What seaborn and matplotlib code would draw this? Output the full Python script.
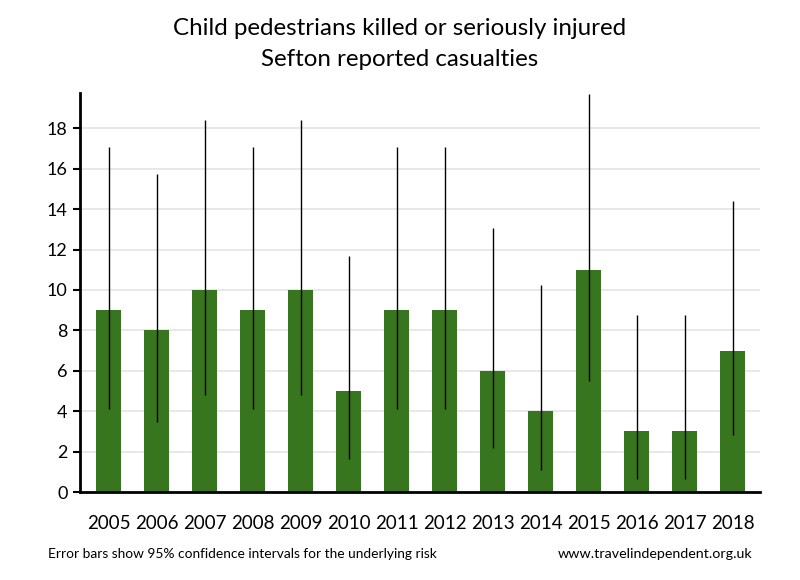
import pandas as pd
import numpy as np
from matplotlib import pyplot as plt
import seaborn as sns

years = ['2005', '2006', '2007', '2008', '2009', '2010', '2011',
         '2012', '2013', '2014', '2015', '2016', '2017', '2018']
casualties = [9, 8, 10, 9, 10, 5, 9, 9, 6, 4, 11, 3, 3, 7]
# 95% confidence intervals
ci_low = [4.12, 3.45, 4.80, 4.12, 4.80, 1.62, 4.12, 4.12, 2.20, 1.09, 5.49, 0.62, 0.62, 2.81]
ci_high = [17.08, 15.76, 18.39, 17.08, 18.39, 11.67, 17.08, 17.08, 13.06, 10.24, 19.68, 8.77, 8.77, 14.42]

df = pd.DataFrame({'year': years, 'casualties': casualties,
                   'lo': ci_low, 'hi': ci_high})

sns.set_style('white')
plt.rcParams['font.family'] = ['Lato', 'DejaVu Sans']
plt.rcParams['text.color'] = 'black'
plt.rcParams['xtick.color'] = 'black'
plt.rcParams['ytick.color'] = 'black'

fig = plt.figure(figsize=(8, 5.8), dpi=100)
ax = fig.add_axes([0.1, 0.1517, 0.85, 0.688])

sns.barplot(x='year', y='casualties', data=df, ax=ax, color='#37761f',
            saturation=1, width=0.52, errorbar=None, zorder=2, linewidth=0)
ax.vlines(np.arange(len(df)), df['lo'], df['hi'], color='black',
          linewidth=1, zorder=3)

ax.set_xlim(-0.6, 13.57)
ax.set_ylim(0, 19.75)
ax.set_yticks(range(0, 20, 2))
ax.yaxis.grid(True, color='#e6e6e6', linewidth=1.3, zorder=0)
ax.set_axisbelow(True)

for side in ['top', 'right']:
    ax.spines[side].set_visible(False)
for side in ['left', 'bottom']:
    ax.spines[side].set_color('black')
    ax.spines[side].set_linewidth(2)

ax.tick_params(axis='y', which='major', left=True, length=5, width=1.5,
               labelsize=13, pad=4)
ax.tick_params(axis='x', which='major', bottom=False, labelsize=13.5, pad=13)
ax.set_xlabel('')
ax.set_ylabel('')

fig.text(0.5, 0.924, 'Child pedestrians killed or seriously injured\nSefton reported casualties',
         ha='center', va='center', fontsize=17.4, linespacing=1.62)
fig.text(0.06, 0.044, 'Error bars show 95% confidence intervals for the underlying risk',
         ha='left', va='center', fontsize=9.9)
fig.text(0.94, 0.044, 'www.travelindependent.org.uk',
         ha='right', va='center', fontsize=10.3)

plt.savefig('out.png', dpi=100)
